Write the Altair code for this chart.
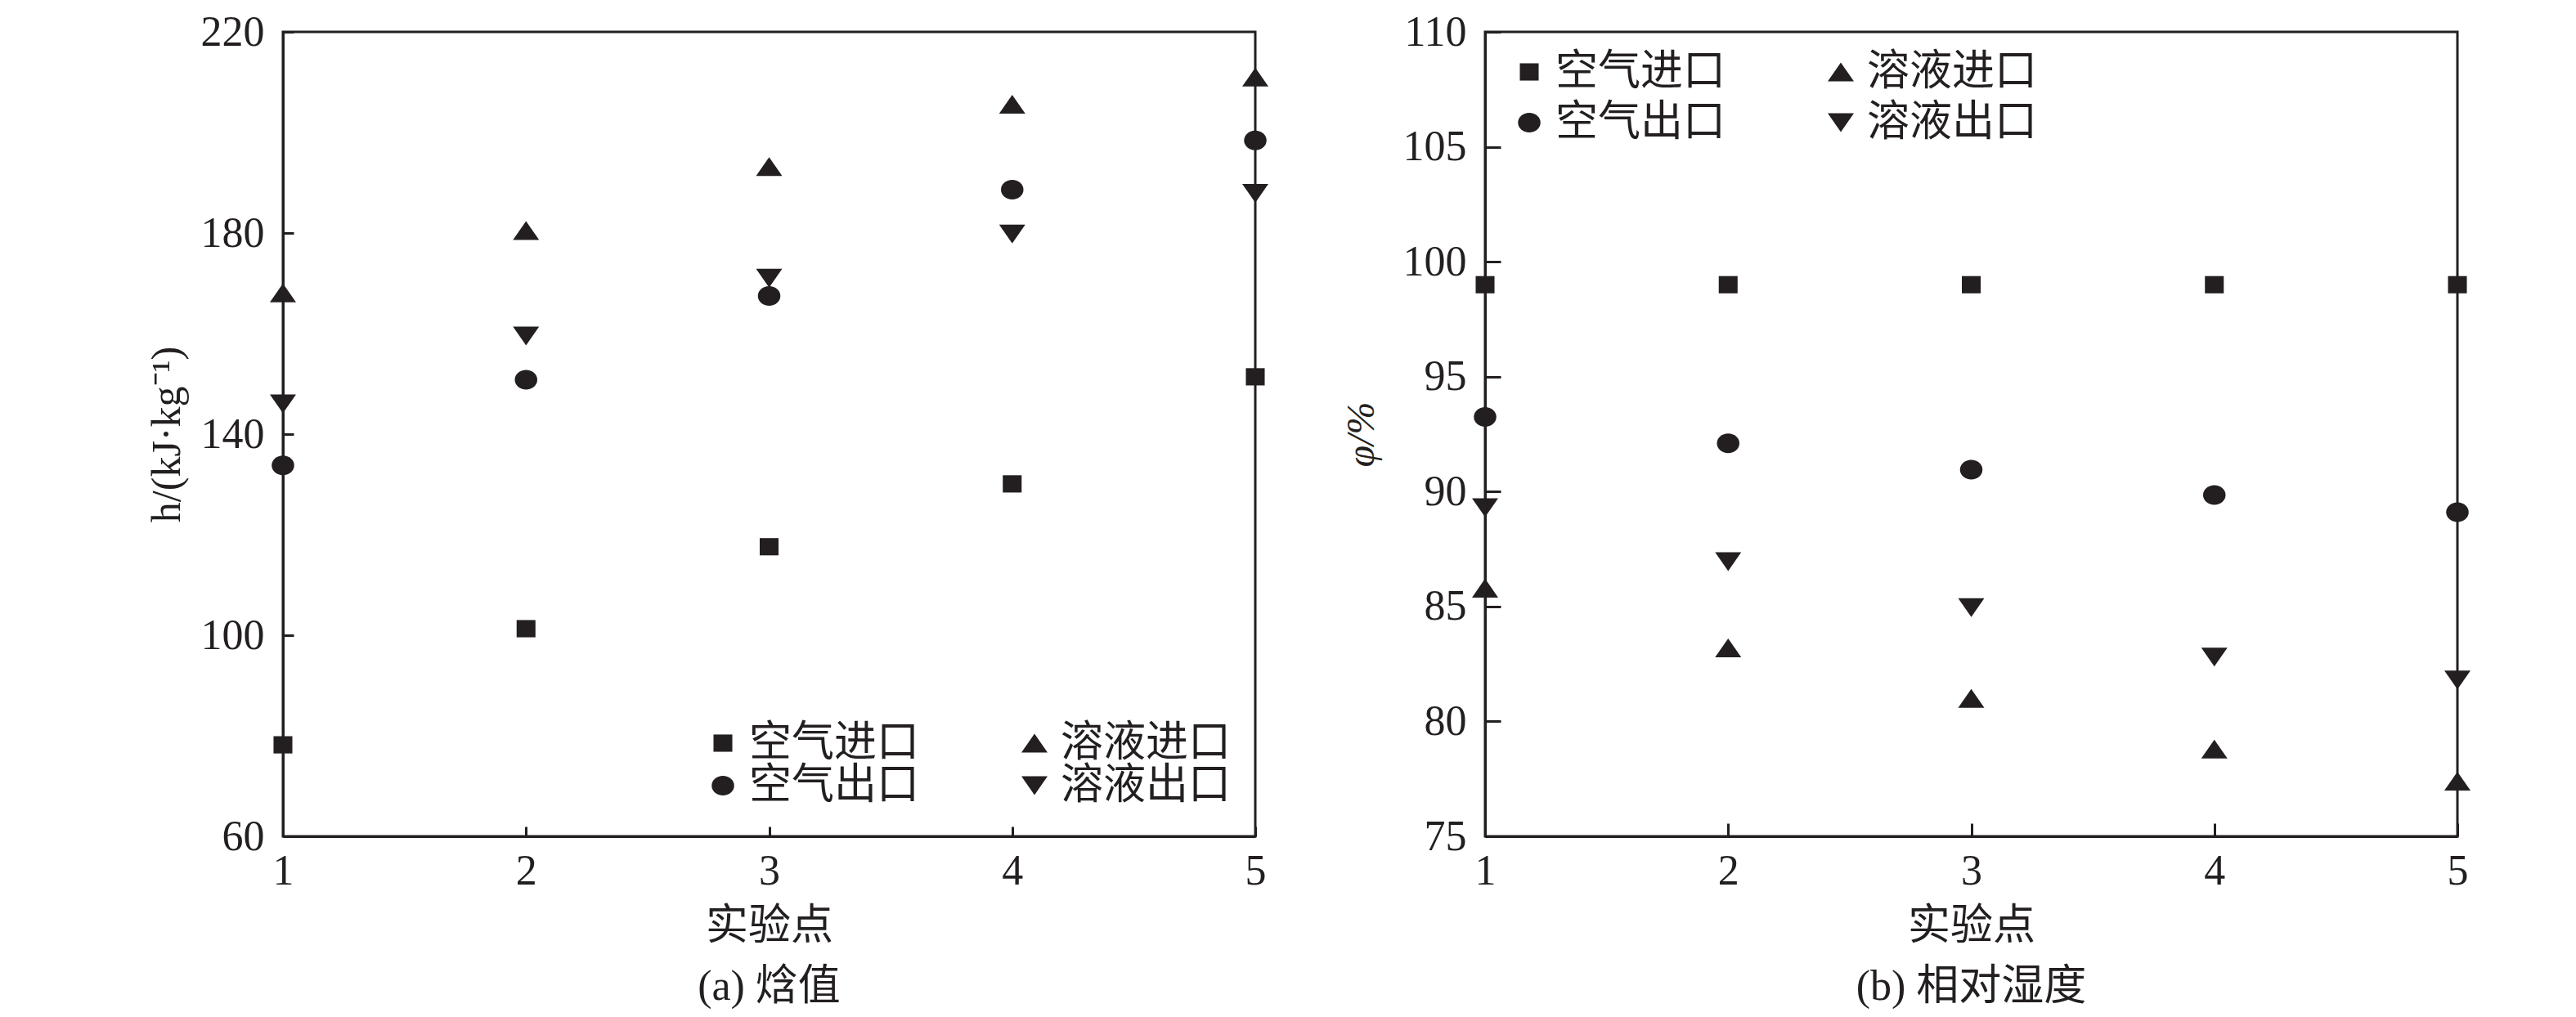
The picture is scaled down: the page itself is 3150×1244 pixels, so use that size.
import altair as alt
import pandas as pd

# ---------------- data ----------------
points = [1, 2, 3, 4, 5]
series = ["空气进口", "溶液进口", "空气出口", "溶液出口"]

# (a) enthalpy, kJ/kg
h_air_in = [78.2, 101.3, 117.6, 130.1, 151.4]
h_air_out = [133.8, 150.8, 167.5, 188.6, 198.4]
h_sol_in = [168.1, 180.5, 193.2, 205.6, 211.0]
h_sol_out = [146.0, 159.5, 171.0, 179.8, 187.9]

# (b) relative humidity, %
p_air_in = [99.0, 99.0, 99.0, 99.0, 99.0]
p_air_out = [93.25, 92.1, 90.95, 89.85, 89.1]
p_sol_in = [85.8, 83.2, 81.0, 78.8, 77.4]
p_sol_out = [89.3, 86.95, 84.95, 82.8, 81.8]

h_ticks = [60, 100, 140, 180, 220]
p_ticks = [75, 80, 85, 90, 95, 100, 105, 110]


def long_table(a_in, s_in, a_out, s_out):
    rows = []
    for name, vals in zip(series, [a_in, s_in, a_out, s_out]):
        for p, v in zip(points, vals):
            rows.append({"point": p, "series": name, "value": v})
    return pd.DataFrame(rows)


df_h = long_table(h_air_in, h_sol_in, h_air_out, h_sol_out)
df_p = long_table(p_air_in, p_sol_in, p_air_out, p_sol_out)

# ---------------- style ----------------
INK = "#231f20"
NUM_FONT = "Liberation Serif, Noto Sans CJK SC"
FS = 52

shapes = [
    "M-0.72,-0.66L0.72,-0.66L0.72,0.66L-0.72,0.66Z",          # square
    "M0,-0.72L1,0.72L-1,0.72Z",                                # triangle up
    "M-0.86,0A0.86,0.75,0,1,1,0.86,0A0.86,0.75,0,1,1,-0.86,0Z",  # circle
    "M0,0.72L1,-0.72L-1,-0.72Z",                               # triangle down
]


def panel(df, y_title, y_dom, y_ticks, caption, ytick, xtick, y_title_size,
          y_title_style, legend_x, legend_y, row_pad, y_title_pad):
    shape_scale = alt.Scale(domain=series, range=shapes)
    legend = alt.Legend(
        title=None,
        orient="none",
        legendX=legend_x,
        legendY=legend_y,
        columns=2,
        direction="horizontal",
        symbolSize=1024,
        symbolFillColor=INK,
        symbolStrokeWidth=0,
        symbolOpacity=1,
        labelFont=NUM_FONT,
        labelFontSize=FS,
        labelColor=INK,
        labelOffset=6,
        columnPadding=114,
        rowPadding=row_pad,
        padding=0,
        labelLimit=0,
    )
    return (
        alt.Chart(df)
        .mark_point(filled=True, size=1024, opacity=1, color=INK, strokeWidth=0)
        .encode(
            x=alt.X(
                "point:Q",
                scale=alt.Scale(domain=[1, 5], nice=False, zero=False),
                axis=alt.Axis(
                    title="实验点",
                    values=points,
                    format="d",
                    grid=False,
                    tickSize=alt.ExprRef(expr=str(-xtick)),
                    tickWidth=3,
                    tickColor=INK,
                    domainColor=INK,
                    domainWidth=3,
                    labelFont=NUM_FONT,
                    labelFontSize=FS,
                    labelColor=INK,
                    labelPadding=17 + xtick,
                    labelFlush=False,
                    titleFont=NUM_FONT,
                    titleFontSize=FS,
                    titleFontWeight="normal",
                    titleColor=INK,
                    titlePadding=16,
                ),
            ),
            y=alt.Y(
                "value:Q",
                scale=alt.Scale(domain=y_dom, nice=False, zero=False),
                axis=alt.Axis(
                    title=y_title,
                    values=y_ticks,
                    grid=False,
                    tickSize=alt.ExprRef(expr=str(-ytick)),
                    tickWidth=3,
                    tickColor=INK,
                    domainColor=INK,
                    domainWidth=3,
                    labelFont=NUM_FONT,
                    labelFontSize=FS,
                    labelColor=INK,
                    labelPadding=23 + ytick,
                    labelFlush=False,
                    titleFont=NUM_FONT,
                    titleFontSize=y_title_size,
                    titleFontStyle=y_title_style,
                    titleFontWeight="normal",
                    titleColor=INK,
                    titlePadding=y_title_pad,
                ),
            ),
            shape=alt.Shape("series:N", scale=shape_scale, legend=legend),
        )
        .properties(
            width=1189,
            height=984,
            view=alt.ViewBackground(stroke=INK, strokeWidth=3, fill="white"),
            title=alt.TitleParams(
                caption,
                orient="bottom",
                anchor="middle",
                font=NUM_FONT,
                fontSize=FS,
                fontWeight="normal",
                color=INK,
                offset=24,
            ),
        )
    )


left = panel(df_h, "h/(kJ·kg⁻¹)", [60, 220], h_ticks, "(a) 焓值", 13, 12, 50,
             "normal", 512, 844, 0, 16)
right = panel(df_p, "φ/%", [75, 110], p_ticks, "(b) 相对湿度", 19, 16, 48,
              "italic", 28, 23, 10, 26)

chart = (
    alt.hconcat(left, right, spacing=86)
    .resolve_scale(shape="independent", x="independent", y="independent")
    .resolve_legend(shape="independent")
    .properties(padding={"left": 169, "top": 3, "right": 5, "bottom": 5})
    .configure_view(stroke=INK, strokeWidth=3)
    .configure(background="white")
)

chart.save("out.html", embed_options={"renderer": "svg", "actions": False})
